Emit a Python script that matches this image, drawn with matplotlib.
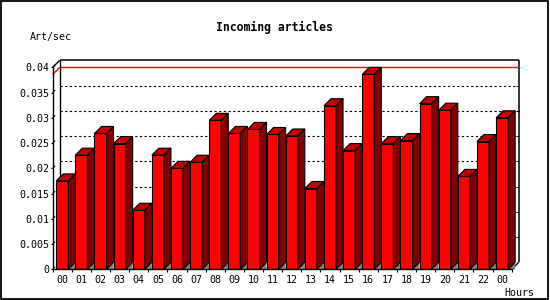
import matplotlib
matplotlib.use("Agg")
import matplotlib.pyplot as plt
from matplotlib.patches import Polygon, Rectangle

# hourly rate of incoming articles
hours = ["00", "01", "02", "03", "04", "05", "06", "07", "08", "09", "10", "11",
         "12", "13", "14", "15", "16", "17", "18", "19", "20", "21", "22", "00"]
art_per_sec = [0.0175, 0.0226, 0.0269, 0.0249, 0.0117, 0.0226, 0.0200, 0.0212,
               0.0295, 0.0269, 0.0277, 0.0267, 0.0264, 0.0160, 0.0324, 0.0235,
               0.0386, 0.0249, 0.0255, 0.0328, 0.0315, 0.0184, 0.0253, 0.0300]
y_ticks = [0, 0.005, 0.01, 0.015, 0.02, 0.025, 0.03, 0.035, 0.04]
y_labels = ["0", "0.005", "0.01", "0.015", "0.02", "0.025", "0.03", "0.035", "0.04"]

MONO = "DejaVu Sans Mono"
FRONT = "#ff0000"
TOP = "#c00000"
SIDE = "#800000"
DEPTH = 7  # pixels

fig = plt.figure(figsize=(5.5, 3), dpi=100)
ax = fig.add_axes([52.7 / 550, 30.7 / 300, 459 / 550, 202 / 300])
n = len(hours)
xs = list(range(n))
ax.set_xlim(-0.5, n - 0.5)
ax.set_ylim(0, 0.04)

# depth of the 3D effect in data units
p0 = ax.transData.transform((0, 0))
p1 = ax.transData.transform((1, 0.01))
dx = DEPTH / (p1[0] - p0[0])
dy = DEPTH * 0.01 / (p1[1] - p0[1])
x0, x1 = -0.5, n - 0.5
ytop = 0.04

def seg(xa, ya, xb, yb, **kw):
    ax.plot([xa, xb], [ya, yb], clip_on=False, solid_capstyle="butt", **kw)

# back plane
seg(x0 + dx, ytop + dy, x1 + dx, ytop + dy, color="black", lw=1.1, zorder=1)
seg(x1 + dx, dy, x1 + dx, ytop + dy, color="black", lw=1.1, zorder=1)
seg(x0 + dx, dy, x0 + dx, ytop + dy, color="black", lw=1.0, zorder=1)
seg(x0, ytop, x0 + dx, ytop + dy, color="black", lw=1.0, zorder=1)
seg(x1, 0, x1 + dx, dy, color="black", lw=1.0, zorder=1)
for v in y_ticks[1:-1]:
    seg(x0 + dx, v + dy, x1 + dx, v + dy, color="black", lw=0.8,
        linestyle=(0, (2, 2.2)), zorder=1)
    seg(x1 + dx - 0.15, v + dy, x1 + dx, v + dy, color="black", lw=0.8, zorder=1)

# max line
vmax = max(art_per_sec)
seg(x0 + dx, vmax + dy, x1 + dx, vmax + dy, color="red", lw=1.0, zorder=1.5)
seg(x0, vmax, x0 + dx, vmax + dy, color="red", lw=1.0, zorder=1.5)

# bars
w = 0.63
ax.bar(xs, art_per_sec, width=w, color=FRONT, edgecolor="black",
       linewidth=0.8, zorder=3)
for x, v in zip(xs, art_per_sec):
    xl, xr = x - w / 2, x + w / 2
    ax.add_patch(Polygon([(xl, v), (xr, v), (xr + dx, v + dy), (xl + dx, v + dy)],
                         closed=True, facecolor=TOP, edgecolor="black",
                         linewidth=0.8, zorder=3, clip_on=False))
    ax.add_patch(Polygon([(xr, 0), (xr + dx, dy), (xr + dx, v + dy), (xr, v)],
                         closed=True, facecolor=SIDE, edgecolor="black",
                         linewidth=0.8, zorder=3, clip_on=False))
    ax.add_patch(Polygon([(xr, 0), (xr + dx, dy), (xr + dx, 0)],
                         closed=True, facecolor="#808080", edgecolor="none",
                         zorder=2.5, clip_on=False))

# small slanted ticks on the left wall
for v in y_ticks:
    seg(x0, v, x0 + dx * 0.35, v + dy * 0.35, color="black", lw=0.8, zorder=4)

for side in ["top", "right"]:
    ax.spines[side].set_visible(False)
for side in ["left", "bottom"]:
    ax.spines[side].set_linewidth(1.0)
    ax.spines[side].set_zorder(5)

ax.set_xticks(xs)
ax.set_xticklabels(hours, fontfamily=MONO, fontsize=7.2)
ax.set_xticks([i - 0.5 for i in range(n + 1)], minor=True)
ax.tick_params(axis="x", which="major", length=0, pad=4.2)
ax.tick_params(axis="x", which="minor", length=2.2, width=0.8, direction="out")
ax.set_yticks(y_ticks)
ax.set_yticklabels(y_labels, fontfamily=MONO, fontsize=7.2)
ax.tick_params(axis="y", length=1.5, width=0.8, pad=1.0)

fig.text(274 / 550, 1 - 27 / 300, "Incoming articles", ha="center", va="center",
         fontfamily=MONO, fontweight="bold", fontsize=8.3)
fig.text(30 / 550, 1 - 37 / 300, "Art/sec", ha="left", va="center",
         fontfamily=MONO, fontsize=7.2)
fig.text(534 / 550, 1 - 292.5 / 300, "Hours", ha="right", va="center",
         fontfamily=MONO, fontsize=7.2)

fig.add_artist(Rectangle((0.001, 0.002), 0.996, 0.995, transform=fig.transFigure,
                         fill=False, edgecolor="black", linewidth=1.3))

fig.savefig("out.png", dpi=100)
